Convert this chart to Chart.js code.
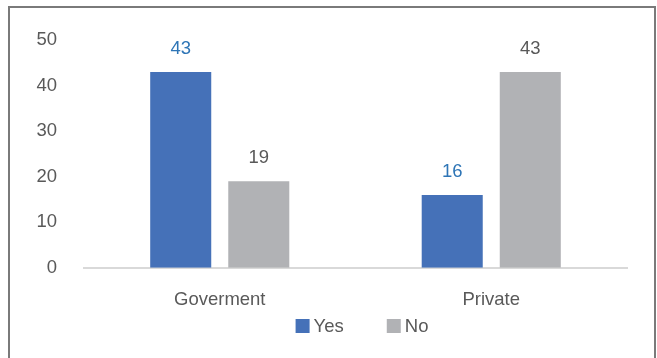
<!DOCTYPE html>
<html>
<head>
<meta charset="utf-8">
<script src="https://cdn.jsdelivr.net/npm/chart.js@4/dist/chart.umd.min.js"></script>
<style>
html,body{margin:0;padding:0;background:#fff;overflow:hidden;}
#wrap{position:absolute;left:0;top:0;width:657px;height:358px;}
#frame{position:absolute;left:8px;top:6px;width:648px;height:400px;border:2px solid #7a7a7a;box-sizing:border-box;}
canvas{position:absolute;left:0;top:0;}
</style>
</head>
<body>
<div id="wrap">
<div id="frame"></div>
<canvas id="c" width="657" height="358"></canvas>
</div>
<script>
const categories = ["Goverment", "Private"];
const yesValues = [43, 16];
const noValues = [19, 43];
const seriesNames = ["Yes", "No"];
const yTicks = [0, 10, 20, 30, 40, 50];

const labelColors = ["#2E75B6", "#595959"];
const FONT = '"Liberation Sans", Arial, sans-serif';
const FS = 18.5;

const dataLabels = {
  id: 'dataLabels',
  afterDatasetsDraw(chart) {
    const ctx = chart.ctx;
    ctx.save();
    ctx.font = FS + 'px ' + FONT;
    ctx.textAlign = 'center';
    ctx.textBaseline = 'middle';
    chart.data.datasets.forEach((ds, i) => {
      const meta = chart.getDatasetMeta(i);
      ctx.fillStyle = labelColors[i];
      meta.data.forEach((bar, j) => {
        ctx.fillText(String(ds.data[j]), bar.x, bar.y - 23);
      });
    });
    ctx.restore();
  }
};

const customLegend = {
  id: 'customLegend',
  afterDraw(chart) {
    const ctx = chart.ctx;
    ctx.save();
    ctx.font = FS + 'px ' + FONT;
    ctx.textBaseline = 'middle';
    ctx.textAlign = 'left';
    const box = 14, gapText = 4, gapItem = 43;
    const items = chart.data.datasets.map(ds => ({ text: ds.label, color: ds.backgroundColor, w: ctx.measureText(ds.label).width }));
    let total = 0;
    items.forEach((it, i) => { total += box + gapText + it.w + (i < items.length - 1 ? gapItem : 0); });
    const ca = chart.chartArea;
    let x = (ca.left + ca.right) / 2 + 6.5 - total / 2;
    const cy = 326;
    items.forEach(it => {
      ctx.fillStyle = it.color;
      ctx.fillRect(x, cy - box / 2, box, box);
      ctx.fillStyle = '#595959';
      ctx.fillText(it.text, x + box + gapText, cy + 1);
      x += box + gapText + it.w + gapItem;
    });
    ctx.restore();
  }
};

new Chart(document.getElementById('c'), {
  type: 'bar',
  data: {
    labels: categories,
    datasets: [
      { label: seriesNames[0], data: yesValues, backgroundColor: '#4571B8', borderWidth: 0 },
      { label: seriesNames[1], data: noValues, backgroundColor: '#B1B2B5', borderWidth: 0 }
    ]
  },
  options: {
    responsive: false,
    animation: false,
    devicePixelRatio: 1,
    layout: { padding: { left: 20, right: 30, top: 40, bottom: 26 } },
    datasets: { bar: { categoryPercentage: 0.575, barPercentage: 0.782 } },
    plugins: {
      legend: { display: false },
      tooltip: { enabled: false }
    },
    scales: {
      x: {
        grid: { display: false, drawTicks: false },
        border: { display: true, color: '#D9D9D9', width: 2 },
        ticks: { color: '#595959', font: { size: FS, family: FONT }, padding: 21 }
      },
      y: {
        min: 0, max: 50,
        afterBuildTicks(scale) { scale.ticks = yTicks.map(v => ({ value: v })); },
        afterFit(scale) { scale.width = 64; },
        grid: { display: false, drawTicks: false },
        border: { display: false },
        ticks: { color: '#595959', font: { size: FS, family: FONT }, padding: 27 }
      }
    }
  },
  plugins: [dataLabels, customLegend]
});
</script>
</body>
</html>
